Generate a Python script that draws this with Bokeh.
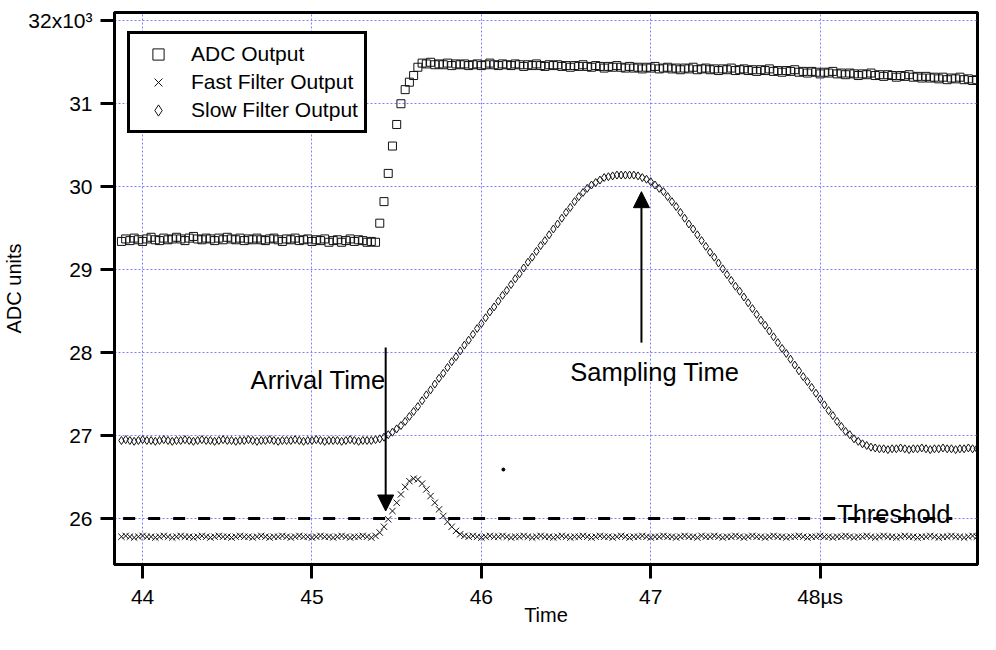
import numpy as np
from bokeh.plotting import figure
from bokeh.models import (Range1d, FixedTicker, CustomJSTickFormatter, Arrow,
                          NormalHead, Label)
from bokeh.embed import file_html
from bokeh.resources import INLINE

FONT = "Liberation Sans"

# ---------------- data (ADC units x 10^3, time in µs) ----------------
t_start = 43.875      # time of first sample (µs)
t_step = 0.025        # sample period (µs)

adc_output = [
    29.34, 29.37, 29.35, 29.38, 29.36, 29.34, 29.37, 29.39, 29.36, 29.35,
    29.38, 29.36, 29.37, 29.39, 29.37, 29.35, 29.38, 29.40, 29.37, 29.36,
    29.38, 29.37, 29.35, 29.38, 29.36, 29.39, 29.37, 29.36, 29.38, 29.35,
    29.37, 29.36, 29.38, 29.36, 29.35, 29.37, 29.38, 29.36, 29.34, 29.37,
    29.36, 29.38, 29.35, 29.36, 29.37, 29.34, 29.36, 29.35, 29.37, 29.33,
    29.35, 29.36, 29.33, 29.35, 29.37, 29.34, 29.36, 29.35, 29.33, 29.34,
    29.33, 29.56, 29.82, 30.16, 30.49, 30.75, 31.00, 31.17, 31.26, 31.34,
    31.44, 31.49, 31.48, 31.50, 31.47, 31.48, 31.47, 31.49, 31.46, 31.48,
    31.47, 31.48, 31.46, 31.47, 31.48, 31.46, 31.47, 31.49, 31.47, 31.46,
    31.48, 31.47, 31.46, 31.48, 31.47, 31.45, 31.47, 31.46, 31.48, 31.46,
    31.45, 31.47, 31.46, 31.47, 31.45, 31.46, 31.44, 31.46, 31.45, 31.47,
    31.45, 31.44, 31.46, 31.45, 31.43, 31.45, 31.44, 31.46, 31.44, 31.43,
    31.45, 31.43, 31.44, 31.42, 31.44, 31.43, 31.45, 31.42, 31.43, 31.44,
    31.42, 31.43, 31.41, 31.43, 31.42, 31.44, 31.41, 31.42, 31.43, 31.41,
    31.42, 31.40, 31.42, 31.41, 31.43, 31.40, 31.41, 31.42, 31.40, 31.41,
    31.39, 31.41, 31.40, 31.42, 31.39, 31.40, 31.38, 31.40, 31.39, 31.41,
    31.38, 31.39, 31.37, 31.39, 31.38, 31.36, 31.38, 31.37, 31.39, 31.36,
    31.37, 31.35, 31.37, 31.36, 31.34, 31.36, 31.35, 31.37, 31.34, 31.35,
    31.33, 31.35, 31.34, 31.32, 31.34, 31.33, 31.35, 31.32, 31.33, 31.31,
    31.33, 31.31, 31.32, 31.30, 31.32, 31.29, 31.31, 31.30, 31.32, 31.29,
    31.30, 31.28, 31.29,
]

fast_filter = [
    25.78, 25.79, 25.78, 25.77, 25.78, 25.79, 25.78, 25.78, 25.77, 25.78,
    25.79, 25.78, 25.77, 25.78, 25.79, 25.78, 25.78, 25.77, 25.78, 25.79,
    25.78, 25.77, 25.78, 25.79, 25.78, 25.78, 25.77, 25.78, 25.79, 25.78,
    25.78, 25.77, 25.78, 25.79, 25.78, 25.77, 25.78, 25.78, 25.79, 25.78,
    25.77, 25.78, 25.79, 25.78, 25.78, 25.77, 25.78, 25.79, 25.78, 25.78,
    25.77, 25.78, 25.79, 25.78, 25.77, 25.78, 25.78, 25.79, 25.78, 25.77,
    25.79, 25.83, 25.90, 25.99, 26.09, 26.19, 26.29, 26.38, 26.45, 26.48,
    26.47, 26.42, 26.35, 26.27, 26.19, 26.11, 26.03, 25.96, 25.90, 25.85,
    25.81, 25.79, 25.78, 25.79, 25.78, 25.77, 25.78, 25.79, 25.78, 25.78,
    25.79, 25.78, 25.77, 25.78, 25.78, 25.79, 25.78, 25.77, 25.78, 25.79,
    25.78, 25.78, 25.77, 25.78, 25.79, 25.78, 25.77, 25.78, 25.78, 25.79,
    25.78, 25.77, 25.78, 25.79, 25.78, 25.78, 25.77, 25.78, 25.79, 25.78,
    25.77, 25.78, 25.78, 25.79, 25.78, 25.77, 25.78, 25.78, 25.79, 25.78,
    25.78, 25.77, 25.78, 25.79, 25.78, 25.78, 25.77, 25.79, 25.78, 25.78,
    25.79, 25.78, 25.77, 25.78, 25.78, 25.79, 25.78, 25.77, 25.78, 25.79,
    25.78, 25.78, 25.77, 25.78, 25.79, 25.78, 25.78, 25.77, 25.78, 25.78,
    25.79, 25.78, 25.77, 25.78, 25.78, 25.79, 25.78, 25.78, 25.77, 25.78,
    25.78, 25.79, 25.78, 25.77, 25.78, 25.78, 25.79, 25.78, 25.77, 25.78,
    25.79, 25.78, 25.78, 25.77, 25.78, 25.79, 25.78, 25.78, 25.77, 25.78,
    25.78, 25.79, 25.78, 25.77, 25.78, 25.78, 25.79, 25.78, 25.78, 25.77,
    25.78, 25.79, 25.78,
]

slow_filter = [
    26.94, 26.95, 26.94, 26.93, 26.94, 26.95, 26.94, 26.94, 26.93, 26.94,
    26.95, 26.94, 26.93, 26.94, 26.94, 26.95, 26.94, 26.93, 26.94, 26.95,
    26.94, 26.94, 26.93, 26.94, 26.95, 26.94, 26.94, 26.93, 26.94, 26.94,
    26.95, 26.94, 26.93, 26.94, 26.94, 26.95, 26.94, 26.93, 26.94, 26.94,
    26.94, 26.95, 26.94, 26.93, 26.94, 26.94, 26.95, 26.94, 26.93, 26.94,
    26.94, 26.94, 26.93, 26.94, 26.95, 26.94, 26.93, 26.94, 26.94, 26.94,
    26.95, 26.96, 26.98, 27.01, 27.04, 27.08, 27.12, 27.17, 27.23, 27.29,
    27.35, 27.42, 27.49, 27.55, 27.62, 27.69, 27.75, 27.82, 27.89, 27.95,
    28.02, 28.09, 28.15, 28.22, 28.29, 28.35, 28.42, 28.49, 28.55, 28.62,
    28.69, 28.75, 28.82, 28.89, 28.95, 29.02, 29.09, 29.15, 29.22, 29.29,
    29.35, 29.42, 29.49, 29.55, 29.62, 29.69, 29.75, 29.82, 29.88, 29.93,
    29.98, 30.02, 30.05, 30.08, 30.11, 30.12, 30.13, 30.14, 30.14, 30.14,
    30.14, 30.14, 30.13, 30.11, 30.09, 30.06, 30.02, 29.98, 29.94, 29.88,
    29.82, 29.76, 29.69, 29.62, 29.55, 29.49, 29.42, 29.35, 29.28, 29.21,
    29.15, 29.08, 29.01, 28.94, 28.87, 28.80, 28.74, 28.67, 28.60, 28.53,
    28.46, 28.39, 28.33, 28.26, 28.19, 28.12, 28.05, 27.99, 27.92, 27.85,
    27.78, 27.71, 27.65, 27.58, 27.51, 27.44, 27.37, 27.30, 27.24, 27.17,
    27.11, 27.05, 27.01, 26.96, 26.93, 26.90, 26.88, 26.86, 26.85, 26.84,
    26.84, 26.83, 26.84, 26.84, 26.85, 26.84, 26.83, 26.84, 26.84, 26.85,
    26.84, 26.83, 26.84, 26.84, 26.85, 26.84, 26.84, 26.83, 26.84, 26.84,
    26.85, 26.84, 26.84,
]

threshold = 26.0
threshold_extent = [43.885, 48.78]
arrival_time = 45.435
arrival_arrow_y = [28.06, 26.09]
sampling_time = 46.945
sampling_arrow_y = [28.12, 29.94]
stray_point = [46.13, 26.59]

x_ticks = [44, 45, 46, 47, 48]
x_tick_labels = ["44", "45", "46", "47", "48\u00b5s"]
y_ticks = [26, 27, 28, 29, 30, 31, 32]
y_tick_labels = ["26", "27", "28", "29", "30", "31", "32x10\u00b3"]

t_adc = t_start + t_step * np.arange(len(adc_output))
t_fast = t_start + t_step * np.arange(len(fast_filter))
t_slow = t_start + t_step * np.arange(len(slow_filter))

# ---------------- figure ----------------
p = figure(width=980, height=634, output_backend="svg", toolbar_location=None,
           x_range=Range1d(43.834, 48.929), y_range=Range1d(25.445, 32.10),
           min_border_left=112, min_border_right=3, min_border_top=12,
           min_border_bottom=70, background_fill_color="white",
           border_fill_color="white")
p.outline_line_color = "black"
p.outline_line_width = 3
p.outline_line_alpha = 1

# grid
p.xgrid.ticker = FixedTicker(ticks=x_ticks)
p.ygrid.ticker = FixedTicker(ticks=y_ticks)
for g in (p.xgrid, p.ygrid):
    g.grid_line_color = "#7f7fff"
    g.grid_line_dash = "2 2"
    g.grid_line_width = 1

# axes
LABEL_JS = "const i = tvals.indexOf(tick); return i >= 0 ? tlabels[i] : String(tick);"
xfmt = CustomJSTickFormatter(args=dict(tvals=x_ticks, tlabels=x_tick_labels), code=LABEL_JS)
yfmt = CustomJSTickFormatter(args=dict(tvals=y_ticks, tlabels=y_tick_labels), code=LABEL_JS)
p.xaxis.ticker = FixedTicker(ticks=x_ticks)
p.yaxis.ticker = FixedTicker(ticks=y_ticks)
p.xaxis.formatter = xfmt
p.yaxis.formatter = yfmt
p.xaxis.axis_label = "Time"
p.yaxis.axis_label = "ADC units"
for ax in (p.xaxis, p.yaxis):
    ax.axis_line_width = 3
    ax.axis_line_color = "black"
    ax.major_tick_line_width = 3
    ax.major_tick_line_color = "black"
    ax.major_tick_out = 14
    ax.major_tick_in = 0
    ax.minor_tick_line_color = None
    ax.major_label_text_font = FONT
    ax.major_label_text_font_size = "21px"
    ax.major_label_text_color = "black"
    ax.axis_label_text_font = FONT
    ax.axis_label_text_font_size = "20px"
    ax.axis_label_text_font_style = "normal"
    ax.axis_label_text_color = "black"
p.xaxis.major_label_standoff = 6
p.xaxis.axis_label_standoff = -7
p.yaxis.major_label_standoff = 8
p.yaxis.axis_label_standoff = 0

# data
p.scatter(t_adc, adc_output, marker="square", size=8, fill_color=None,
          line_color="#111111", line_width=1, legend_label="ADC Output")
p.scatter(t_fast, fast_filter, marker="x", size=9,
          line_color="#111111", line_width=1, legend_label="Fast Filter Output")
p.scatter(t_slow, slow_filter, marker="diamond", size=8,
          fill_color=None, line_color="#111111", line_width=1,
          legend_label="Slow Filter Output")

# threshold line
p.line(threshold_extent, [threshold, threshold], line_color="black",
       line_width=3, line_dash="12 13")
p.scatter([stray_point[0]], [stray_point[1]], marker="circle", size=3,
          fill_color="black", line_color="black")

# arrows
p.add_layout(Arrow(end=NormalHead(size=16, fill_color="black", line_color="black"),
                   x_start=arrival_time, y_start=arrival_arrow_y[0],
                   x_end=arrival_time, y_end=arrival_arrow_y[1],
                   line_color="black", line_width=2))
p.add_layout(Arrow(end=NormalHead(size=16, fill_color="black", line_color="black"),
                   x_start=sampling_time, y_start=sampling_arrow_y[0],
                   x_end=sampling_time, y_end=sampling_arrow_y[1],
                   line_color="black", line_width=2))

# text annotations
for txt, x, y, align in [("Arrival Time", 45.435, 27.67, "right"),
                         ("Sampling Time", 46.525, 27.765, "left"),
                         ("Threshold", 48.10, 26.05, "left")]:
    p.add_layout(Label(x=x, y=y, text=txt, text_align=align,
                       text_baseline="alphabetic", text_font=FONT,
                       text_font_size="25.5px", text_color="black"))

# legend
lg = p.legend[0]
lg.location = (13, 431)
lg.label_text_font = FONT
lg.label_text_font_size = "21px"
lg.label_text_color = "black"
lg.label_height = 28
lg.glyph_height = 28
lg.glyph_width = 44
lg.spacing = 0
lg.padding = 6
lg.label_standoff = 11
lg.border_line_color = "black"
lg.border_line_width = 3
lg.border_line_alpha = 1
lg.background_fill_color = "white"
lg.background_fill_alpha = 1

open("out.html", "w").write(file_html(p, INLINE))
